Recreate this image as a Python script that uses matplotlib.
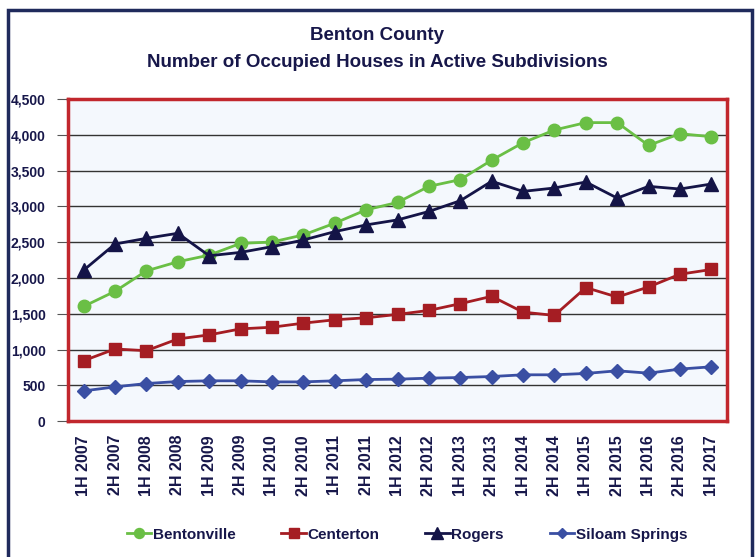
import numpy as np
import matplotlib.pyplot as plt
from matplotlib.patches import Rectangle

periods = ['1H 2007', '2H 2007', '1H 2008', '2H 2008', '1H 2009', '2H 2009',
           '1H 2010', '2H 2010', '1H 2011', '2H 2011', '1H 2012', '2H 2012',
           '1H 2013', '2H 2013', '1H 2014', '2H 2014', '1H 2015', '2H 2015',
           '1H 2016', '2H 2016', '1H 2017']

bentonville = [1603, 1814, 2100, 2227, 2320, 2484, 2503, 2602, 2766, 2953, 3056,
               3281, 3375, 3647, 3891, 4069, 4172, 4172, 3853, 4017, 3975]
centerton = [844, 1008, 984, 1148, 1205, 1289, 1312, 1369, 1416, 1444, 1491,
             1547, 1641, 1744, 1523, 1477, 1866, 1734, 1875, 2053, 2119]
rogers = [2109, 2475, 2555, 2625, 2311, 2358, 2438, 2531, 2648, 2742, 2812,
          2930, 3080, 3352, 3211, 3258, 3342, 3117, 3281, 3244, 3314]
siloam = [422, 478, 525, 553, 563, 563, 548, 548, 563, 581, 586,
          600, 609, 623, 647, 647, 666, 703, 670, 727, 759]

navy = '#17174a'
plt.rcParams['font.family'] = ['Liberation Sans', 'DejaVu Sans']
plt.rcParams['font.weight'] = 'bold'

fig = plt.figure(figsize=(7.55, 5.57), dpi=100)
ax = fig.add_axes([0.090, 0.244, 0.873, 0.578])

# outer chart frame
fig.patches.append(Rectangle((8 / 755, -0.05), 744 / 755, 0.05 + 1 - 10 / 557,
                             transform=fig.transFigure, fill=False,
                             edgecolor='#1f2a5c', lw=2.5, clip_on=False))

x = np.arange(len(periods))
ax.set_facecolor('#f4f8fd')
ax.plot(x, bentonville, color='#6abf45', lw=2, marker='o', ms=9, label='Bentonville', zorder=3)
ax.plot(x, centerton, color='#a51d23', lw=2, marker='s', ms=9, label='Centerton', zorder=3)
ax.plot(x, rogers, color='#141447', lw=2, marker='^', ms=10, label='Rogers', zorder=4)
ax.plot(x, siloam, color='#3a4fa3', lw=2, marker='D', ms=7, label='Siloam Springs', zorder=3)

ax.set_xlim(-0.5, len(periods) - 0.5)
ax.set_ylim(0, 4500)
ax.set_yticks(np.arange(0, 4501, 500))
ax.set_yticklabels(['{:,}'.format(v) for v in range(0, 4501, 500)])
ax.yaxis.grid(True, color='#333333', lw=1)
ax.set_axisbelow(True)
ax.set_xticks(x)
ax.set_xticklabels(periods, rotation=90)
ax.tick_params(axis='x', length=0, pad=10, labelsize=11.5, labelcolor=navy)
ax.tick_params(axis='y', length=8, pad=8, color='#555555', labelsize=10, labelcolor=navy)
for s in ax.spines.values():
    s.set_color('#c1272d')
    s.set_linewidth(2.5)

fig.text(0.5, 0.937, 'Benton County', ha='center', va='center', fontsize=13.5, color=navy)
fig.text(0.5, 0.888, 'Number of Occupied Houses in Active Subdivisions', ha='center',
         va='center', fontsize=13.5, color=navy)

leg = fig.legend(loc='center', bbox_to_anchor=(0.539, 0.04), ncol=4, frameon=False,
                 fontsize=11, handlelength=1.6, handletextpad=0.1, columnspacing=3.0,
                 markerscale=0.8)
for t in leg.get_texts():
    t.set_color(navy)

fig.savefig('out.png', dpi=100)
